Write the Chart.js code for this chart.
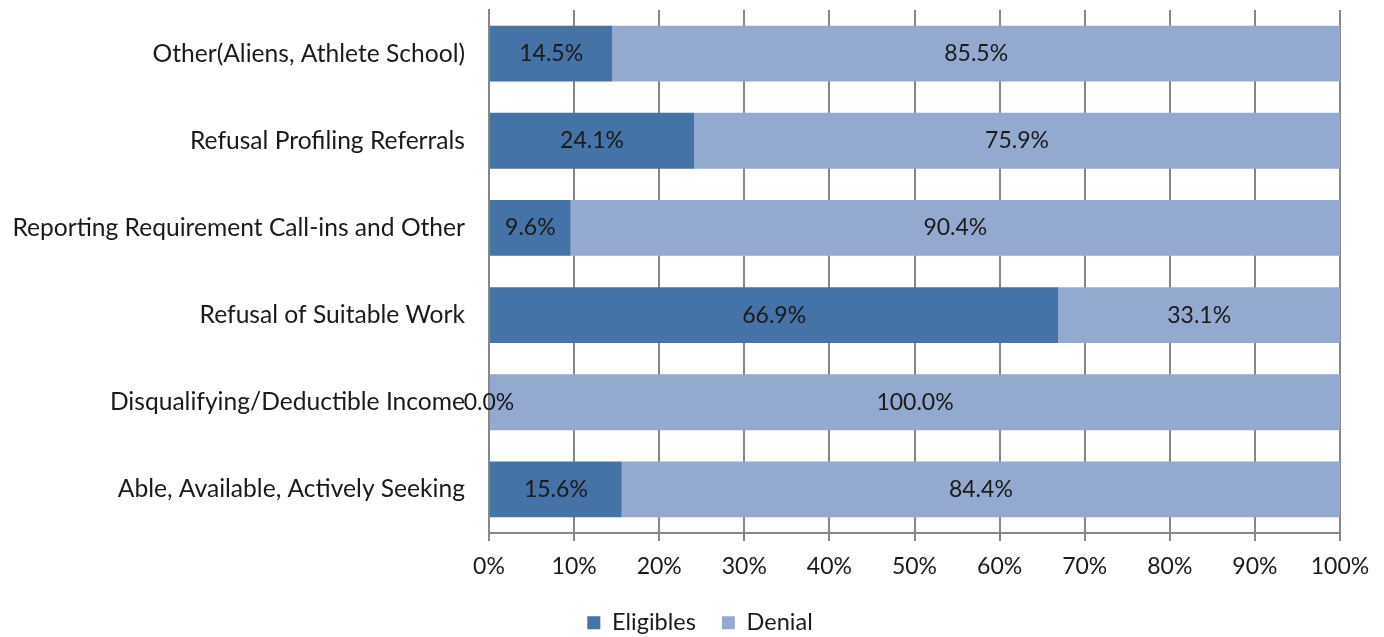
<!DOCTYPE html>
<html>
<head>
<meta charset="utf-8">
<script src="https://cdn.jsdelivr.net/npm/chart.js@4/dist/chart.umd.min.js"></script>
<style>
  html, body { margin: 0; padding: 0; background: #fff; }
  #wrap { width: 1384px; height: 637px; }
</style>
</head>
<body>
<div id="wrap"><canvas id="reasonChart"></canvas></div>
<script>
const categories = [
    'Other(Aliens, Athlete School)',
    'Refusal Profiling Referrals',
    'Reporting Requirement Call-ins and Other',
    'Refusal of Suitable Work',
    'Disqualifying/Deductible Income',
    'Able, Available, Actively Seeking'
];
const eligibles = [14.5, 24.1, 9.6, 66.9, 0.0, 15.6];
const denial = [85.5, 75.9, 90.4, 33.1, 100.0, 84.4];
const xTicks = [0, 10, 20, 30, 40, 50, 60, 70, 80, 90, 100];

const fontFamily = 'Lato, "Open Sans", sans-serif';
const textColor = '#1a1a1a';

const barLabels = {
    id: 'barLabels',
    afterDatasetsDraw(chart) {
        const ctx = chart.ctx;
        ctx.save();
        ctx.font = '23px ' + fontFamily;
        ctx.fillStyle = textColor;
        ctx.textAlign = 'center';
        ctx.textBaseline = 'middle';
        chart.data.datasets.forEach((ds, i) => {
            chart.getDatasetMeta(i).data.forEach((bar, j) => {
                const cx = (bar.x + bar.base) / 2;
                ctx.fillText(ds.data[j].toFixed(1) + '%', cx, bar.y);
            });
        });
        ctx.restore();
    }
};

// fixed legend box height so item spacing doesn't push the plot around,
// and nudge it right to sit under the middle like the original
const legendTweak = {
    id: 'legendTweak',
    beforeInit(chart) {
        const origFit = chart.legend.fit;
        chart.legend.fit = function fit() {
            origFit.bind(chart.legend)();
            this.height = 52;
        };
    },
    afterLayout(chart) {
        chart.legend.left += 30;
        chart.legend.right += 30;
    }
};

new Chart(document.getElementById('reasonChart'), {
    type: 'bar',
    data: {
        labels: categories,
        datasets: [
            { label: 'Eligibles', data: eligibles, backgroundColor: '#4572a7' },
            { label: 'Denial', data: denial, backgroundColor: '#94a9d0' }
        ]
    },
    options: {
        indexAxis: 'y',
        responsive: true,
        maintainAspectRatio: false,
        animation: false,
        layout: { padding: { top: 10, right: 44, left: 0, bottom: 0 } },
        datasets: { bar: { categoryPercentage: 1, barPercentage: 0.64 } },
        scales: {
            x: {
                stacked: true,
                min: 0,
                max: 100,
                afterBuildTicks(scale) { scale.ticks = xTicks.map(v => ({ value: v })); },
                afterFit(scale) { scale.height = 52; },
                ticks: {
                    callback: v => v + '%',
                    color: textColor,
                    font: { family: fontFamily, size: 23 },
                    padding: 12,
                    maxRotation: 0
                },
                grid: { color: '#878787', lineWidth: 2, tickLength: 8, tickColor: '#878787' },
                border: { color: '#878787', width: 2 }
            },
            y: {
                stacked: true,
                afterFit(scale) {
                    scale.width = 489;
                    scale.paddingTop = 0;
                    scale.paddingBottom = 0;
                },
                ticks: {
                    color: textColor,
                    font: { family: fontFamily, size: 24.6 },
                    padding: 24
                },
                grid: { display: false, drawTicks: false },
                border: { color: '#878787', width: 2 }
            }
        },
        plugins: {
            legend: {
                position: 'bottom',
                labels: {
                    color: textColor,
                    font: { family: fontFamily, size: 23.5 },
                    boxWidth: 13,
                    boxHeight: 13,
                    padding: 26
                }
            },
            tooltip: { enabled: false }
        }
    },
    plugins: [barLabels, legendTweak]
});
</script>
</body>
</html>
